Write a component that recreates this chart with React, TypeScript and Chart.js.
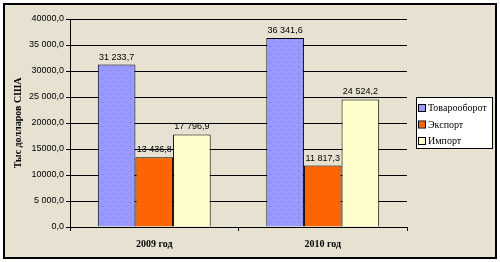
import React, { useEffect, useRef } from "react";
import { Chart, registerables } from "chart.js";

Chart.register(...registerables);

const categories = ["2009 год", "2010 год"];
const seriesNames = ["Товарооборот", "Экспорт", "Импорт"];
const turnover = [31233.7, 36341.6];
const exportVals = [13436.8, 11817.3];
const importVals = [17796.9, 24524.2];
const yTickLabels = ["0,0", "5 000,0", "10000,0", "15000,0", "20000,0", "25 000,0", "30000,0", "35 000,0", "40000,0"];
const yTitle = "Тыс долларов США";

const fillColors = ["#9999FF", "#FF6600", "#FFFFCC"];
const dotColors = ["#6666EE", "#E05000", "#F4F4C0"];

function makePattern(base: string, dot: string) {
  const c = document.createElement("canvas");
  c.width = 8;
  c.height = 8;
  const g = c.getContext("2d")!;
  g.fillStyle = base;
  g.fillRect(0, 0, 8, 8);
  g.fillStyle = dot;
  g.fillRect(2, 2, 1, 1);
  g.fillRect(6, 6, 1, 1);
  return g.createPattern(c, "repeat")!;
}

function fmt(v: number) {
  const [i, d] = v.toFixed(1).split(".");
  return i.replace(/\B(?=(\d{3})+(?!\d))/g, " ") + "," + d;
}

const bgPlugin = {
  id: "bgFrame",
  beforeDraw(chart: any) {
    const ctx = chart.ctx;
    ctx.save();
    ctx.fillStyle = "#FFFFFF";
    ctx.fillRect(0, 0, chart.width, chart.height);
    ctx.fillStyle = "#E7E1D1";
    ctx.fillRect(4, 4, 492, 254);
    ctx.strokeStyle = "#000000";
    ctx.lineWidth = 2;
    ctx.strokeRect(4, 4, 492, 254);
    ctx.restore();
  },
};

const labelPlugin = {
  id: "valueLabels",
  afterDatasetsDraw(chart: any) {
    const ctx = chart.ctx;
    ctx.save();
    ctx.font = "9px 'Liberation Sans', Arial, sans-serif";
    ctx.fillStyle = "#000000";
    ctx.textAlign = "center";
    ctx.textBaseline = "bottom";
    chart.data.datasets.forEach((ds: any, di: number) => {
      const meta = chart.getDatasetMeta(di);
      meta.data.forEach((bar: any, i: number) => {
        ctx.fillText(fmt(ds.data[i]), bar.x, bar.y - 3);
      });
    });
    ctx.restore();
  },
};

const legendPlugin = {
  id: "customLegend",
  afterDraw(chart: any) {
    const ctx = chart.ctx;
    ctx.save();
    ctx.fillStyle = "#FFFFFF";
    ctx.fillRect(416, 97, 76, 51);
    ctx.strokeStyle = "#000000";
    ctx.lineWidth = 1;
    ctx.strokeRect(416.5, 97.5, 76, 51);
    ctx.font = "10px 'Liberation Serif', 'Times New Roman', serif";
    ctx.textBaseline = "middle";
    ctx.textAlign = "left";
    chart.data.datasets.forEach((ds: any, i: number) => {
      const y = 108 + i * 16.5;
      ctx.fillStyle = fillColors[i];
      ctx.fillRect(419, y - 3, 6, 6);
      ctx.strokeStyle = "#000000";
      ctx.strokeRect(418.5, y - 3.5, 7, 7);
      ctx.fillStyle = "#000000";
      ctx.fillText(ds.label, 428, y + 0.5);
    });
    ctx.restore();
  },
};

export default function App() {
  const ref = useRef<HTMLCanvasElement>(null);
  useEffect(() => {
    document.body.style.margin = "0";
    const values = [turnover, exportVals, importVals];
    const chart = new Chart(ref.current!, {
      type: "bar",
      data: {
        labels: categories,
        datasets: seriesNames.map((name, i) => ({
          label: name,
          data: values[i],
          backgroundColor: makePattern(fillColors[i], dotColors[i]),
          borderColor: "#000000",
          borderWidth: 1,
          categoryPercentage: 0.67,
          barPercentage: 1,
        })),
      },
      options: {
        responsive: false,
        animation: false,
        events: [],
        layout: { padding: { left: 0, top: 19, right: 93, bottom: 0 } },
        plugins: { legend: { display: false }, tooltip: { enabled: false } },
        scales: {
          x: {
            afterFit: (s: any) => { s.height = 35; },
            grid: { drawOnChartArea: false, drawTicks: true, tickLength: 4, color: "#000000", offset: true },
            border: { display: true, color: "#000000", width: 1 },
            ticks: {
              color: "#000000",
              padding: 7,
              font: { family: "'Liberation Serif', 'Times New Roman', serif", size: 10, weight: "bold" },
            },
          },
          y: {
            min: 0,
            max: 40000,
            afterFit: (s: any) => { s.width = 70; },
            grid: { color: "#000000", tickLength: 4, drawTicks: true },
            border: { display: true, color: "#000000", width: 1 },
            ticks: {
              stepSize: 5000,
              color: "#000000",
              padding: 2,
              font: { family: "'Liberation Sans', Arial, sans-serif", size: 9 },
              callback: (v: any) => yTickLabels[Math.round(Number(v) / 5000)] ?? "",
            },
            title: {
              display: true,
              text: yTitle,
              color: "#000000",
              padding: { top: 12, bottom: 0 },
              font: { family: "'Liberation Serif', 'Times New Roman', serif", size: 10, weight: "bold" },
            },
          },
        },
      },
      plugins: [bgPlugin, labelPlugin, legendPlugin],
    } as any);
    return () => chart.destroy();
  }, []);
  return (
    <div style={{ width: 500, height: 262 }}>
      <canvas ref={ref} width={500} height={262} style={{ display: "block" }} />
    </div>
  );
}
